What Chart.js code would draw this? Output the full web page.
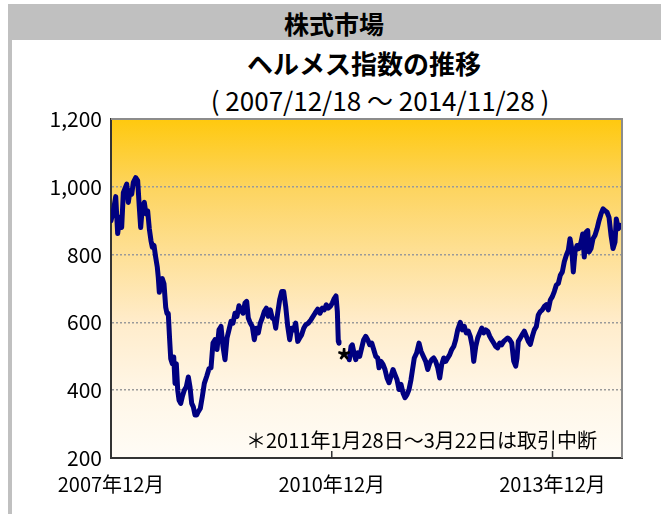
<!DOCTYPE html>
<html>
<head>
<meta charset="utf-8">
<script src="https://cdn.jsdelivr.net/npm/chart.js@4.4.1/dist/chart.umd.min.js"></script>
<style>
  body { margin: 0; background: #fff; }
  #marco { position: relative; width: 661px; height: 514px; overflow: hidden; }
  .cabecera { position: absolute; left: 8px; top: 4px; width: 653px; height: 36px; background: #c0c0c0; }
  .borde { position: absolute; left: 8px; top: 40px; width: 4px; height: 474px; background: #c0c0c0; }
  .texto { position: absolute; white-space: nowrap; color: #000; transform: translateX(-50%); }
  canvas { position: absolute; left: 0; top: 0; }
</style>
</head>
<body>
<div id="marco">
  <div class="cabecera"></div>
  <div class="borde"></div>
  <div class="texto" style="left:334px; top:5px; font: bold 25px 'Noto Sans CJK JP';">株式市場</div>
  <div class="texto" style="left:364px; top:44px; font: bold 26px 'Noto Sans CJK JP';">ヘルメス指数の推移</div>
  <div class="texto" style="left:380px; top:81px; font: 26px 'Liberation Sans Narrow', 'Noto Sans CJK JP';">( 2007/12/18 ～ 2014/11/28 )</div>
  <canvas id="grafica" width="661" height="514"></canvas>
</div>
<script>
// meses desde 2007年12月 y valor del indice
const meses = [
  0.00, 0.38, 0.77, 1.09, 1.42, 1.74, 2.01, 2.56, 2.82, 3.10, 3.38, 3.64, 4.03, 4.35, 4.62, 4.84,
  5.10, 5.43, 5.71, 5.98, 6.25, 6.52, 6.74, 7.01, 7.29, 7.55, 7.71, 7.88, 8.11, 8.37, 8.64, 8.92,
  9.13, 9.34, 9.57, 9.74, 10.00, 10.23, 10.44, 10.65, 10.88, 11.09, 11.37, 11.63, 11.95, 12.28,
  12.61, 12.88, 13.16, 13.42, 13.70, 13.98, 14.24, 14.56, 14.89, 15.22,
  15.61, 15.98, 16.31, 16.63, 16.96, 17.29, 17.61, 17.94, 18.26, 18.59, 18.92, 19.24, 19.57, 19.90,
  20.22, 20.55, 20.87, 21.20, 21.53, 21.85, 22.13, 22.39, 22.72, 23.04, 23.37, 23.70, 24.02, 24.35,
  24.67, 25.00, 25.33, 25.65, 25.98, 26.30, 26.63, 26.86, 27.18, 27.51, 27.84, 28.16, 28.49, 28.82,
  29.14, 29.47, 29.79, 30.12, 30.45, 30.77, 31.10, 31.43, 31.75, 32.18, 32.62,
  33.27, 33.71, 34.08, 34.46, 34.78, 35.11, 35.44, 35.76, 36.09, 36.42, 36.69, 36.91, 37.07, 37.18,
  38.00,
  38.86, 39.14, 39.35, 39.68, 39.91, 40.23, 40.56, 40.88, 41.21, 41.54, 41.86, 42.19, 42.52, 42.84,
  43.17, 43.49, 43.71, 44.03, 44.36, 44.68, 45.01, 45.34, 45.66, 45.99, 46.31, 46.64, 46.97, 47.29,
  47.62, 47.95, 48.27, 48.60, 48.92,
  49.46, 49.85, 50.23, 50.56, 50.93, 51.32, 51.65, 51.98, 52.30, 52.63, 52.95, 53.28, 53.61, 53.93,
  54.26, 54.58, 54.91, 55.24, 55.56, 55.89, 56.21, 56.54, 56.96, 57.29, 57.62, 57.94, 58.27, 58.59,
  58.92, 59.15, 59.48, 59.80, 60.13, 60.46, 60.78, 61.11, 61.43, 61.76, 62.08, 62.41, 62.74, 63.06,
  63.39, 63.71, 64.04, 64.37, 64.69, 65.02, 65.35,
  65.67, 66.00, 66.21, 66.42, 66.75, 67.07, 67.40, 67.73, 68.05, 68.38, 68.71, 69.03, 69.36, 69.68,
  70.01, 70.34, 70.66, 70.99, 71.31, 71.64, 71.97, 72.29, 72.62, 72.95, 73.27, 73.60, 73.92, 74.25,
  74.58, 74.85, 75.13, 75.39, 75.67, 75.99, 76.32, 76.65, 76.92, 77.18, 77.46, 77.74, 77.95, 78.28,
  78.60, 78.93, 79.26, 79.58, 79.91, 80.24, 80.56, 80.89, 81.21, 81.54, 81.87, 82.19, 82.40, 82.73,
  83.06, 83.33
];
const valores = [
  900, 929, 971, 862, 910, 880, 983, 1008, 954, 988, 978, 1013, 1027, 1018, 939, 880,
  939, 954, 920, 929, 876, 841, 822, 827, 792, 763, 733, 689, 714, 729, 714, 645,
  626, 626, 547, 493, 478, 498, 420, 478, 400, 371, 361, 381, 400, 410,
  439, 410, 361, 351, 327, 327, 337, 346, 381, 420,
  441, 463, 466, 539, 549, 520, 578, 588, 529, 490, 554, 578, 603, 598,
  627, 618, 649, 637, 627, 657, 662, 613, 598, 588, 549, 583, 569, 598,
  613, 632, 642, 618, 637, 613, 608, 583, 627, 667, 691, 691, 647, 588,
  549, 583, 578, 598, 544, 554, 564, 583, 593, 598, 608,
  627, 639, 627, 642, 637, 652, 642, 647, 657, 671, 678, 632, 544, 539,
  null,
  490, 529, 534, 505, 490, 510, 500, 525, 549, 559, 549, 534, 539, 520,
  500, 495, 466, 485, 476, 461, 436, 422, 441, 461, 446, 431, 402, 417,
  392, 378, 387, 402, 431,
  495, 510, 539, 515, 500, 485, 461, 480, 490, 495, 485, 466, 436, 476,
  495, 485, 495, 505, 520, 529, 549, 578, 600, 578, 588, 569, 574, 559,
  529, 485, 529, 554, 569, 583, 569, 578, 574, 559, 549, 539, 529, 525,
  539, 534, 544, 549, 554, 549, 539,
  486, 471, 495, 544, 554, 564, 574, 559, 544, 535, 559, 578, 588, 622,
  632, 637, 647, 652, 637, 666, 676, 691, 710, 715, 739, 749, 779, 798,
  813, 847, 818, 749, 808, 827, 818, 837, 861, 793, 866, 871, 808, 818,
  847, 857, 876, 900, 920, 935, 930, 925, 910, 857, 818, 837, 905, 876,
  886, 881
];

const ticksX = [0, 36, 72];
const etiquetasX = ['2007年12月', '2010年12月', '2013年12月'];
const ticksY = [200, 400, 600, 800, 1000, 1200];

const nota = '＊2011年1月28日～3月22日は取引中断';
const marcaHueco = { mes: 38.0, valor: 510 };

const fuente = "'Liberation Sans Narrow', 'Noto Sans CJK JP'";

let puntos = [];
for (let i = 0; i < meses.length; i++) {
  puntos.push({ x: meses[i], y: valores[i] });
}

// fondo degradado del area del grafico
const fondo = {
  id: 'fondo',
  beforeDraw(chart) {
    const a = chart.chartArea;
    const ctx = chart.ctx;
    const g = ctx.createLinearGradient(0, a.top, 0, a.bottom);
    g.addColorStop(0, '#ffc90e');
    g.addColorStop(0.2, '#fdd45e');
    g.addColorStop(0.4, '#fee096');
    g.addColorStop(0.6, '#ffeccb');
    g.addColorStop(0.8, '#fff6e6');
    g.addColorStop(1, '#fffcf6');
    ctx.save();
    ctx.fillStyle = g;
    ctx.fillRect(a.left, a.top, a.right - a.left, a.bottom - a.top);
    ctx.restore();
  }
};

// marco, marcas internas del eje x y textos
const extras = {
  id: 'extras',
  afterDraw(chart) {
    const a = chart.chartArea;
    const ctx = chart.ctx;
    const sx = chart.scales.x;
    const sy = chart.scales.y;
    ctx.save();
    ctx.strokeStyle = '#8c8c8c';
    ctx.lineWidth = 2;
    ctx.beginPath();
    ctx.moveTo(a.left, a.top);
    ctx.lineTo(a.right, a.top);
    ctx.lineTo(a.right, a.bottom);
    ctx.stroke();

    ctx.strokeStyle = '#333';
    ctx.lineWidth = 1.5;
    for (let t of ticksX) {
      if (t == 0) continue;
      const px = sx.getPixelForValue(t);
      ctx.beginPath();
      ctx.moveTo(px, a.bottom);
      ctx.lineTo(px, a.bottom - 7);
      ctx.stroke();
    }

    ctx.fillStyle = '#000';
    ctx.font = '20px ' + fuente;
    ctx.textBaseline = 'middle';
    ctx.textAlign = 'right';
    ctx.fillText(nota, a.right - 25, a.bottom - 18);

    ctx.textAlign = 'center';
    ctx.font = 'bold 30px ' + fuente;
    ctx.fillText('*', sx.getPixelForValue(marcaHueco.mes), sy.getPixelForValue(marcaHueco.valor) + 8);
    ctx.restore();
  }
};

const grafica = new Chart(document.getElementById('grafica'), {
  type: 'line',
  data: {
    datasets: [{
      data: puntos,
      borderColor: '#000080',
      borderWidth: 5,
      borderJoinStyle: 'round',
      borderCapStyle: 'round',
      pointRadius: 0,
      tension: 0,
      fill: false,
      spanGaps: false
    }]
  },
  options: {
    responsive: false,
    animation: false,
    devicePixelRatio: 1,
    layout: { padding: { left: 0, right: 39, top: 119, bottom: 0 } },
    plugins: { legend: { display: false }, tooltip: { enabled: false } },
    scales: {
      x: {
        type: 'linear',
        min: 0,
        max: 83.33,
        afterBuildTicks: (s) => { s.ticks = ticksX.map(v => ({ value: v })); },
        afterFit: (s) => { s.height = 56; },
        ticks: {
          autoSkip: false,
          maxRotation: 0,
          padding: 14,
          color: '#000',
          font: { family: fuente, size: 20 },
          callback: (v) => etiquetasX[ticksX.indexOf(v)]
        },
        grid: { drawOnChartArea: false, drawTicks: false },
        border: { display: true, color: '#333', width: 2 }
      },
      y: {
        min: 200,
        max: 1200,
        afterBuildTicks: (s) => { s.ticks = ticksY.map(v => ({ value: v })); },
        afterFit: (s) => { s.width = 111; },
        ticks: {
          padding: 9,
          color: '#000',
          font: { family: fuente, size: 21 },
          callback: (v) => v.toLocaleString('en-US')
        },
        grid: {
          drawTicks: false,
          lineWidth: 1.5,
          color: (c) => (c.tick && (c.tick.value == 200 || c.tick.value == 1200)) ? 'rgba(0,0,0,0)' : '#9a9a9a'
        },
        border: { display: true, color: '#333', width: 2, dash: [2, 2] }
      }
    }
  },
  plugins: [fondo, extras]
});
</script>
</body>
</html>
